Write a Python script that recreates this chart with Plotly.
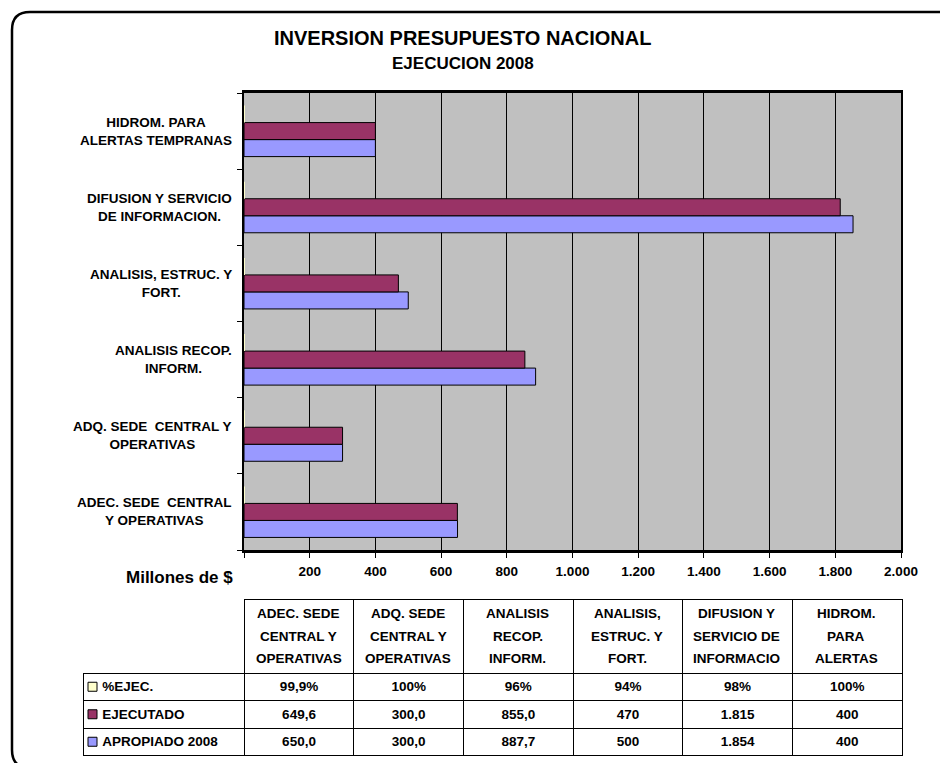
import plotly.graph_objects as go

# ---------------- data ----------------
categories = [
    "ADEC. SEDE  CENTRAL<br>Y OPERATIVAS",
    "ADQ. SEDE  CENTRAL Y<br>OPERATIVAS",
    "ANALISIS RECOP.<br>INFORM.",
    "ANALISIS, ESTRUC. Y<br>FORT.",
    "DIFUSION Y SERVICIO<br>DE INFORMACION.",
    "HIDROM. PARA<br>ALERTAS TEMPRANAS",
]
table_headers = [
    "ADEC. SEDE<br>CENTRAL Y<br>OPERATIVAS",
    "ADQ. SEDE<br>CENTRAL Y<br>OPERATIVAS",
    "ANALISIS<br>RECOP.<br>INFORM.",
    "ANALISIS,<br>ESTRUC. Y<br>FORT.",
    "DIFUSION Y<br>SERVICIO DE<br>INFORMACIO",
    "HIDROM.<br>PARA<br>ALERTAS",
]
series_names = ["%EJEC.", "EJECUTADO", "APROPIADO 2008"]
pct_ejec = [0.999, 1.0, 0.96, 0.94, 0.98, 1.0]
ejecutado = [649.6, 300.0, 855.0, 470, 1815, 400]
apropiado = [650.0, 300.0, 887.7, 500, 1854, 400]
pct_text = ["99,9%", "100%", "96%", "94%", "98%", "100%"]
ejec_text = ["649,6", "300,0", "855,0", "470", "1.815", "400"]
aprop_text = ["650,0", "300,0", "887,7", "500", "1.854", "400"]
x_tickvals = [0, 200, 400, 600, 800, 1000, 1200, 1400, 1600, 1800, 2000]
x_ticktext = ["", "200", "400", "600", "800", "1.000", "1.200", "1.400", "1.600", "1.800", "2.000"]

# ---------------- styling ----------------
W, H = 940, 763
PL, PR, PT, PB = 244, 901, 93, 550  # plot area in pixels
FONT = "Liberation Sans, Arial, sans-serif"
C_PCT, C_EJEC, C_APROP = "#FFFFCC", "#993366", "#9999FF"
TBL_L, TBL_TOP, HDR_H, ROW_H, COL0_W = 83, 599, 74, 27.5, 161
COL_W = (PR - PL) / len(categories)


def px(xp):
    return xp / W


def py(yp):
    return 1 - yp / H


def b(s):
    return "<b>" + s + "</b>"


fig = go.Figure()
# first trace drawn lowest in each group (horizontal bars)
fig.add_trace(go.Bar(y=categories, x=apropiado, name=series_names[2], orientation="h",
                     marker=dict(color=C_APROP, line=dict(color="black", width=1)), showlegend=False,
                     hoverinfo="x+y"))
fig.add_trace(go.Bar(y=categories, x=ejecutado, name=series_names[1], orientation="h",
                     marker=dict(color=C_EJEC, line=dict(color="black", width=1)), showlegend=False,
                     hoverinfo="x+y"))
fig.add_trace(go.Bar(y=categories, x=pct_ejec, name=series_names[0], orientation="h",
                     marker=dict(color=C_PCT, line=dict(color="black", width=0)), showlegend=False,
                     hoverinfo="x+y"))

# table (grid + body text); header text drawn as centred annotations below
nb = "\u00a0"
cell_cols = [[nb * 3 + n.replace(" ", nb) for n in series_names]]
for i in range(len(categories)):
    cell_cols.append([pct_text[i], ejec_text[i], aprop_text[i]])
n_rows = len(series_names)
fig.add_trace(go.Table(
    domain=dict(x=[px(TBL_L), px(PR + 1)], y=[py(TBL_TOP + HDR_H + ROW_H * n_rows + 2), py(TBL_TOP)]),
    columnwidth=[COL0_W] + [COL_W] * len(categories),
    header=dict(values=[""] * (len(categories) + 1), height=HDR_H,
                line=dict(color="black", width=[0] + [1] * len(categories)),
                fill=dict(color="white"),
                font=dict(family=FONT, size=13.5, color="black")),
    cells=dict(values=cell_cols, height=ROW_H,
               align=["left"] + ["center"] * len(categories),
               line=dict(color="black", width=1),
               fill=dict(color="white"),
               font=dict(family=FONT, size=13.5, color="black", weight="bold")),
))

shapes = []
# outer rounded frame
shapes.append(dict(type="path", xref="paper", yref="paper",
                   path=(f"M {px(980)},{py(768)} L {px(30)},{py(768)} Q {px(12)},{py(768)} {px(12)},{py(750)} "
                         f"L {px(12)},{py(30)} Q {px(12)},{py(12)} {px(30)},{py(12)} L {px(980)},{py(12)}"),
                   line=dict(color="black", width=2.5), layer="above"))
# legend keys in the table
row_top = TBL_TOP + HDR_H
for i, c in enumerate([C_PCT, C_EJEC, C_APROP]):
    yc = row_top + ROW_H * (i + 0.5)
    shapes.append(dict(type="rect", xref="paper", yref="paper",
                       x0=px(88), x1=px(97), y0=py(yc - 4.5), y1=py(yc + 4.5),
                       fillcolor=c, line=dict(color="black", width=1), layer="above"))

annotations = []
annotations.append(dict(text=b("INVERSION PRESUPUESTO NACIONAL"), xref="paper", yref="paper",
                        x=px(462), y=py(38), xanchor="center", yanchor="middle", showarrow=False,
                        font=dict(family=FONT, size=20, color="black")))
annotations.append(dict(text=b("EJECUCION 2008"), xref="paper", yref="paper",
                        x=px(463), y=py(64), xanchor="center", yanchor="middle", showarrow=False,
                        font=dict(family=FONT, size=17, color="black")))
annotations.append(dict(text=b("Millones de $"), xref="paper", yref="paper",
                        x=px(179), y=py(577), xanchor="center", yanchor="middle", showarrow=False,
                        font=dict(family=FONT, size=17, color="black")))
for cat in categories:
    annotations.append(dict(text=b(cat), xref="paper", yref="y", x=px(234), y=cat,
                            xanchor="right", yanchor="middle", align="center", showarrow=False,
                            font=dict(family=FONT, size=13.5, color="black")))
# table header text, one centred line at a time
hdr_mid = TBL_TOP + HDR_H / 2
for i, h in enumerate(table_headers):
    lines = h.split("<br>")
    xc = PL + COL_W * (i + 0.5)
    for k, ln in enumerate(lines):
        yc = hdr_mid + (k - (len(lines) - 1) / 2) * 22.5
        annotations.append(dict(text=b(ln), xref="paper", yref="paper", x=px(xc), y=py(yc),
                                xanchor="center", yanchor="middle", showarrow=False,
                                font=dict(family=FONT, size=13.5, color="black")))

fig.update_layout(
    width=W, height=H,
    margin=dict(l=0, r=0, t=0, b=0, autoexpand=False),
    paper_bgcolor="white", plot_bgcolor="#C0C0C0",
    barmode="group", bargap=0.33, bargroupgap=0,
    font=dict(family=FONT, color="black"),
    shapes=shapes, annotations=annotations,
    showlegend=False,
)
fig.update_xaxes(domain=[px(PL), px(PR)], range=[0, 2000], tickvals=x_tickvals,
                 ticktext=[b(t) for t in x_ticktext],
                 tickfont=dict(family=FONT, size=13.5, color="black"),
                 showgrid=True, gridcolor="black", gridwidth=1, zeroline=False,
                 showline=True, linecolor="black", linewidth=2.5, mirror=True,
                 ticks="outside", ticklen=5, tickcolor="black", tickwidth=1,
                 ticklabelstandoff=2, automargin=False)
fig.update_yaxes(domain=[py(PB), py(PT)], categoryorder="array", categoryarray=categories,
                 showticklabels=False, showgrid=False, zeroline=False,
                 showline=True, linecolor="black", linewidth=2, mirror=True,
                 ticks="outside", tickson="boundaries", ticklen=5, tickcolor="black", tickwidth=1,
                 automargin=False)

fig.write_html("out.html", config={"displayModeBar": False},
               post_script="document.body.style.margin='0px';")
